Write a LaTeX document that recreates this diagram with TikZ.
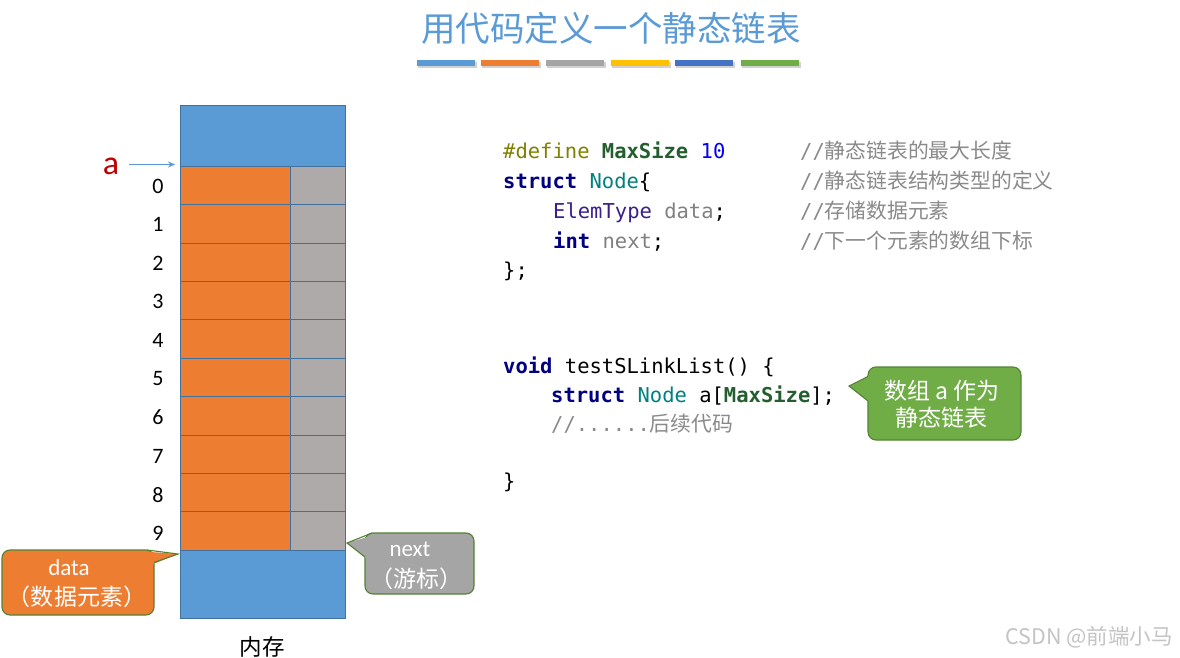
\documentclass[tikz,border=0pt]{standalone}
\usepackage{fontspec}
\setmainfont{Carlito}
\newfontfamily\cjk{Noto Sans CJK SC}
\newfontfamily\mono{DejaVu Sans Mono}
\usetikzlibrary{arrows.meta}
\definecolor{cblue}{HTML}{5B9BD5}
\definecolor{corange}{HTML}{ED7D31}
\definecolor{cgraycell}{HTML}{AEAAAA}
\definecolor{cgraybub}{HTML}{A5A5A5}
\definecolor{cyellow}{HTML}{FFC000}
\definecolor{cdblue}{HTML}{4472C4}
\definecolor{cgreen}{HTML}{70AD47}
\definecolor{cborder}{HTML}{41719C}
\definecolor{bubborder}{HTML}{548235}
\definecolor{kolive}{HTML}{808000}
\definecolor{kgreen}{HTML}{245E2E}
\definecolor{kblue}{HTML}{0000FF}
\definecolor{knavy}{HTML}{000080}
\definecolor{kteal}{HTML}{008080}
\definecolor{kpurple}{HTML}{3A1F8C}
\definecolor{kgray}{HTML}{808080}
\definecolor{kcmt}{HTML}{8A8A8A}
\definecolor{ared}{HTML}{C00000}
\definecolor{wmark}{HTML}{C4C4C4}
\newcommand\cmtxt[1]{{\fontsize{20.5}{24}\mono //}{\fontsize{20.8}{24}\cjk #1}}
\newcommand\kw[1]{{\bfseries\color{knavy}#1}}
\newcommand\msz{{\bfseries\color{kgreen}MaxSize}}
\begin{document}
\begin{tikzpicture}[x=1pt,y=-1pt,
  code/.style={anchor=base west, inner sep=0pt, font=\fontsize{20.5}{24}\mono},
  cmt/.style={anchor=base west, inner sep=0pt, text=kcmt},
  cellbox/.style={draw=cborder, line width=0.9pt, inner sep=0pt},
  datacell/.style={cellbox, fill=corange, minimum width=110pt, minimum height=38.35pt},
  nextcell/.style={cellbox, fill=cgraycell, minimum width=55pt, minimum height=38.35pt},
  rowlbl/.style={inner sep=0pt, font=\fontsize{22}{26}\selectfont},
  bar/.style={minimum width=58pt, minimum height=6pt, inner sep=0pt},
  bubtext/.style={inner sep=0pt, text=white},
  bubble/.style={draw=bubborder, line width=1.1pt, rounded corners=8pt}
]
\useasboundingbox (0,0) rectangle (1180,658);
\fill[white] (0,0) rectangle (1180,658);

% title
\node[text=cblue, inner sep=0pt] (title) at (611,28) {\fontsize{34.5}{40}\cjk 用代码定义一个静态链表};
\foreach \cx/\col [count=\k] in {446/cblue,510/corange,575/cgraybub,640/cyellow,704/cdblue,770/cgreen}{
  \fill[black!18] (\cx-28,62) rectangle (\cx+31,68);
  \node[bar, fill=\col] (bar\k) at (\cx,63) {};
}

% memory
\node[cellbox, fill=cblue, minimum width=165pt, minimum height=61.5pt] (mtop) at (262.5,135.75) {};
\foreach \i in {0,...,9}{
  \pgfmathsetmacro\yy{166.5+38.35*(\i+0.5)}
  \pgfmathsetmacro\ly{186+38.6*\i}
  \node[datacell] (d\i) at (235,\yy) {};
  \node[nextcell] (n\i) at (317.5,\yy) {};
  \node[rowlbl] (l\i) at (158,\ly) {\i};
}
\node[cellbox, fill=cblue, minimum width=165pt, minimum height=68pt] (mbot) at (262.5,584) {};
\node[inner sep=0pt] (mem) at (262,647) {\fontsize{22.5}{26}\cjk 内存};

% pointer a
\node[text=ared, inner sep=0pt] (alab) at (111,166) {\fontsize{34}{38}\selectfont a};
\coordinate (aend) at (175,164.5);
\draw[cblue, line width=0.9pt, -{Stealth[length=7pt,width=6pt]}] (alab.east |- aend) ++(10,0) -- (aend);

% data bubble
\draw[bubble, fill=corange] (2,550) rectangle (154,615);
\coordinate (dtip) at (178,554);
\fill[corange] (144,551.5) -- (dtip) -- (152,564.5) -- cycle;
\draw[bubborder, line width=1.1pt, line join=miter] (147,550) -- (dtip) -- (154,562.5);
\node[bubtext] (dtxt1) at (69,568) {\fontsize{23}{26}\selectfont data};
\node[bubtext] (dtxt2) at (77,597) {\fontsize{23}{26}\cjk （数据元素）};

% next bubble
\draw[bubble, fill=cgraybub] (365,533) rectangle (474,594);
\coordinate (ntip) at (347,543);
\fill[cgraybub] (376,534.5) -- (ntip) -- (367,559) -- cycle;
\draw[bubborder, line width=1.1pt, line join=miter] (372,533) -- (ntip) -- (365,557);
\node[bubtext] (ntxt1) at (410,549) {\fontsize{23}{26}\selectfont next};
\node[bubtext] (ntxt2) at (416,579) {\fontsize{23}{26}\cjk （游标）};

% green bubble
\draw[bubble, fill=cgreen] (868,367) rectangle (1021,440);
\coordinate (gtip) at (849,386);
\fill[cgreen] (872,374) -- (gtip) -- (872,404) -- cycle;
\draw[bubborder, line width=1.1pt, line join=miter] (868,376.5) -- (gtip) -- (868,401);
\node[bubtext] (gtxt1) at (942,391) {\fontsize{23}{26}\cjk 数组 a 作为};
\node[bubtext] (gtxt2) at (941,418) {\fontsize{23}{26}\cjk 静态链表};

% code block 1
\node[code] (c1) at (503,158) {{\color{kolive}\#define} \msz{} {\color{kblue}10}};
\node[code] (c2) at (503,188) {\kw{struct} {\color{kteal}Node}\{};
\node[code] (c3) at (553,218) {{\color{kpurple}ElemType} {\color{kgray}data};};
\node[code] (c4) at (553,248) {\kw{int} {\color{kgray}next};};
\node[code] (c5) at (503,277) {\};};
\node[cmt] (m1) at (800,158) {\cmtxt{静态链表的最大长度}};
\node[cmt] (m2) at (800,188) {\cmtxt{静态链表结构类型的定义}};
\node[cmt] (m3) at (800,218) {\cmtxt{存储数据元素}};
\node[cmt] (m4) at (800,248) {\cmtxt{下一个元素的数组下标}};

% code block 2
\node[code] (c6) at (503,373) {\kw{void} testSLinkList() \{};
\node[code] (c7) at (551,402) {\kw{struct} {\color{kteal}Node} a[\msz];};
\node[cmt] (c8) at (551,431) {{\fontsize{20.5}{24}\mono //......}{\fontsize{20.8}{24}\cjk 后续代码}};
\node[code] (c9) at (503,488) {\}};

% watermark
\node[text=wmark, inner sep=0pt] (wm) at (1089,637) {\fontsize{21.5}{24}\cjk CSDN @前端小马};
\end{tikzpicture}
\end{document}
